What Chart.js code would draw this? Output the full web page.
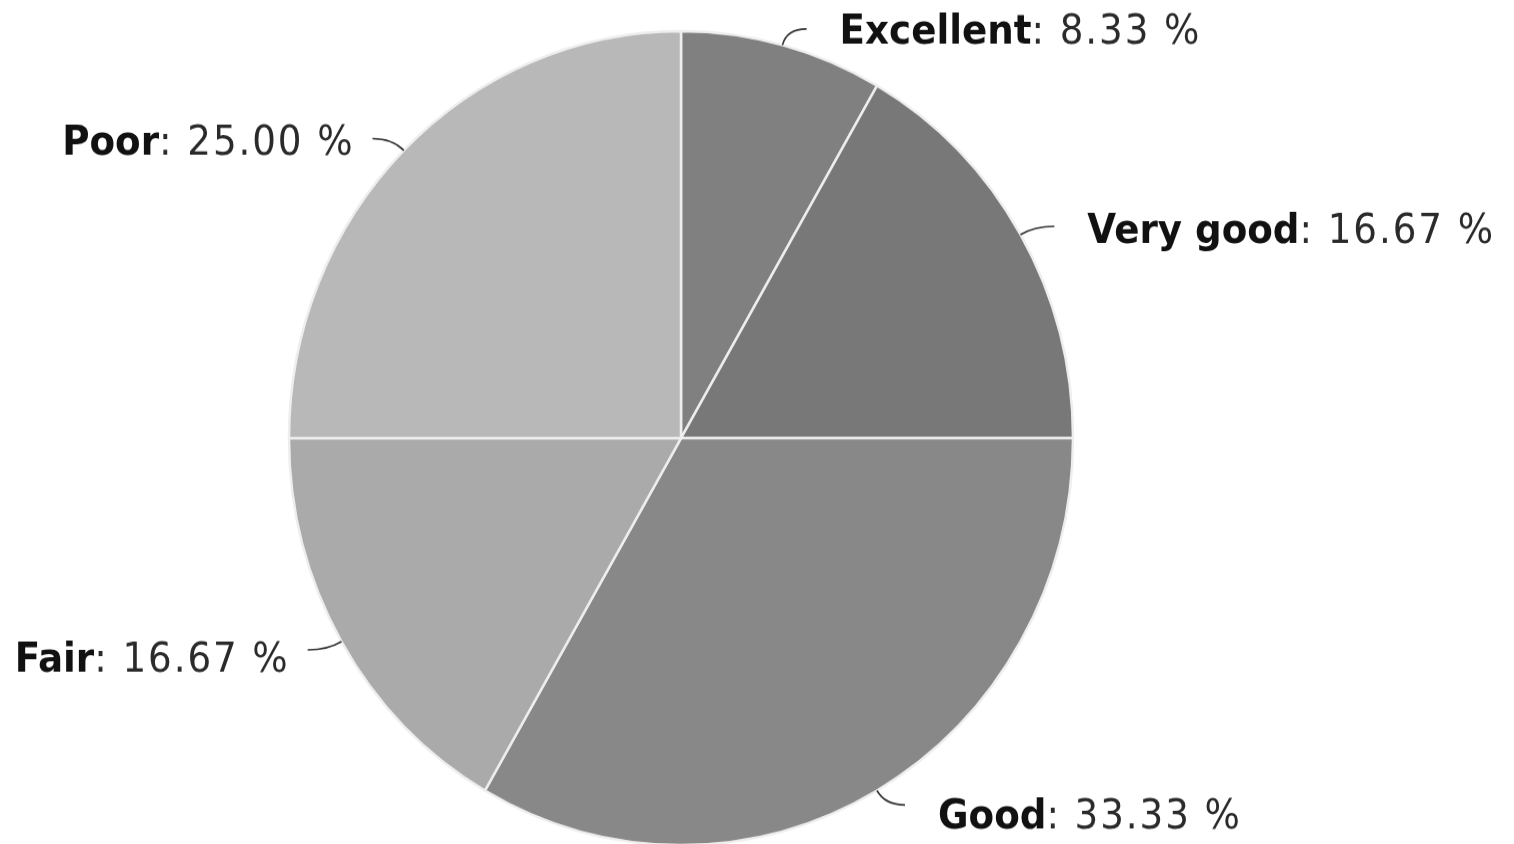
<!DOCTYPE html>
<html lang="en">
<head>
    <meta charset="UTF-8">
    <title>Rating breakdown</title>
    <script src="https://cdn.jsdelivr.net/npm/chart.js"></script>
    <style>
        html, body { margin: 0; padding: 0; background: #fff; overflow: hidden; }
        /* drawn at 813px high and shown at 844px: the reference pie is a bit taller than wide */
        #ratingChart { display: block; width: 1514px; height: 844px; }
    </style>
</head>
<body>
    <canvas id="ratingChart" width="1514" height="813" style="width:1514px;height:844px"></canvas>
    <script>
        const categories = ['Excellent', 'Very good', 'Good', 'Fair', 'Poor'];
        const counts = [1, 2, 4, 2, 3];
        const sliceColors = ['#808080', '#787878', '#888888', '#aaaaaa', '#b8b8b8'];

        const total = counts.reduce((a, b) => a + b, 0);

        // draws "Name: xx.xx %" next to each slice with a small hooked connector
        const sliceLabels = {
            id: 'sliceLabels',
            afterDraw(chart) {
                const ctx = chart.ctx;
                const arcs = chart.getDatasetMeta(0).data;
                const sx = 0.955;
                arcs.forEach((arc, i) => {
                    const { x, y, startAngle, endAngle, outerRadius } = arc.getProps(['x', 'y', 'startAngle', 'endAngle', 'outerRadius'], true);
                    const mid = (startAngle + endAngle) / 2;
                    const cos = Math.cos(mid), sin = Math.sin(mid);
                    const right = cos >= 0;
                    const dir = right ? 1 : -1;
                    const p0 = { x: x + cos * outerRadius, y: y + sin * outerRadius };
                    const p1 = { x: x + cos * (outerRadius + 16), y: y + sin * (outerRadius + 16) };
                    const p2 = { x: p1.x + dir * 20, y: p1.y };

                    ctx.save();
                    ctx.strokeStyle = '#333';
                    ctx.lineWidth = 1.6;
                    ctx.beginPath();
                    ctx.moveTo(p0.x, p0.y);
                    ctx.quadraticCurveTo(p1.x, p1.y, p2.x, p2.y);
                    ctx.stroke();

                    const name = categories[i];
                    const value = ': ' + (counts[i] / total * 100).toFixed(2) + ' %';
                    const boldFont = 'bold 39px "DejaVu Sans"';
                    const normFont = '39px "DejaVu Sans"';
                    ctx.font = boldFont;
                    ctx.letterSpacing = '0px';
                    const wName = ctx.measureText(name).width;
                    ctx.font = normFont;
                    ctx.letterSpacing = '2px';
                    const wVal = ctx.measureText(value).width;
                    const wAll = (wName + wVal) * sx;
                    const tx = right ? p2.x + 33 : p2.x - 18 - wAll;
                    const ty = p2.y + 8.5 + 5 * sin;

                    ctx.translate(tx, ty);
                    ctx.scale(sx, 1);
                    ctx.textBaseline = 'middle';
                    ctx.textAlign = 'left';
                    ctx.fillStyle = '#111';
                    ctx.font = boldFont;
                    ctx.letterSpacing = '0px';
                    ctx.fillText(name, 0, 0);
                    ctx.fillStyle = '#2a2a2a';
                    ctx.font = normFont;
                    ctx.letterSpacing = '2px';
                    ctx.fillText(value, wName, 0);
                    ctx.restore();
                });
            }
        };

        new Chart(document.getElementById('ratingChart'), {
            type: 'pie',
            data: {
                labels: categories,
                datasets: [{
                    data: counts,
                    backgroundColor: sliceColors,
                    borderColor: '#eeeeee',
                    borderWidth: 2.5,
                    radius: 392
                }]
            },
            options: {
                responsive: false,
                animation: false,
                layout: { padding: { left: 0, right: 152, top: 31, bottom: 0 } },
                plugins: {
                    legend: { display: false },
                    tooltip: { enabled: false }
                }
            },
            plugins: [sliceLabels]
        });
    </script>
</body>
</html>
